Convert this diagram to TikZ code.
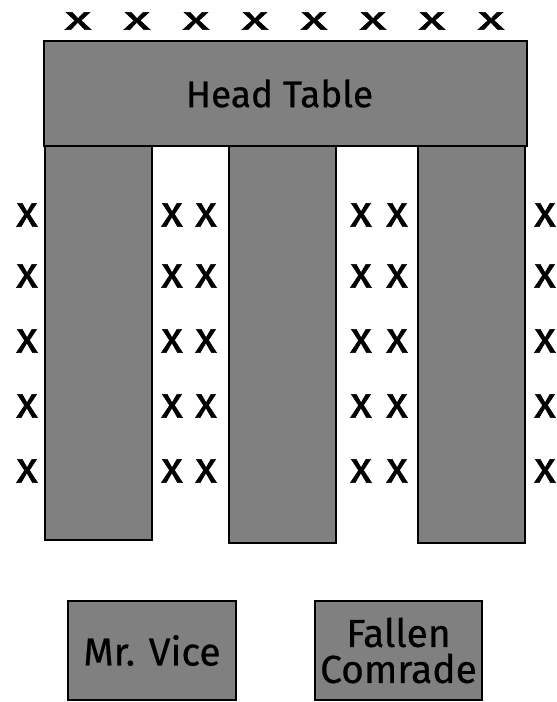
\documentclass[tikz,border=0pt]{standalone}
\usepackage{fontspec}
\setmainfont{Fira Sans}[FakeBold=0.6]
\newfontfamily\seatfont{Fira Sans}[FakeBold=1.4]
\definecolor{tablegray}{RGB}{128,128,128}
\begin{document}
\begin{tikzpicture}[x=1pt,y=-1pt,
  tbl/.style={draw=black,line width=2pt,fill=tablegray,inner sep=0pt,outer sep=0pt,anchor=north west,align=center},
  seat/.style={font=\seatfont\fontsize{44}{44}\selectfont,inner sep=0pt},
  lbl/.style={font=\fontsize{37}{37}\selectfont},
  sublbl/.style={font=\fontsize{39}{36}\selectfont}]
\useasboundingbox (0,0) rectangle (557,702);
% legs
\node[tbl,minimum width=107pt,minimum height=394pt] (leg1) at (45,146) {};
\node[tbl,minimum width=107pt,minimum height=397pt] (leg2) at (229,146) {};
\node[tbl,minimum width=107pt,minimum height=397pt] (leg3) at (418,146) {};
% head table
\node[tbl,lbl,minimum width=483pt,minimum height=105pt] (head) at (44,41) {Head Table\hspace*{12pt}};
% side tables
\node[tbl,sublbl,minimum width=168pt,minimum height=99pt] (vice) at (68,601) {Mr. Vice};
\node[tbl,sublbl,minimum width=167pt,minimum height=99pt] (comrade) at (315,601) {Fallen\\Comrade};
% top seats
\foreach \i in {0,...,7}{
  \node[seat] (top\i) at ({78+59*\i},21) {\scalebox{1.25}[0.75]{x}};
}
% side seats
\foreach \c/\xx in {a/27,b/172,c/206,d/361,e/397,f/545}{
  \foreach \r/\yy in {1/215,2/276,3/341,4/406,5/471}{
    \node[seat] (\c\r) at (\xx,\yy) {x};
  }
}
\end{tikzpicture}
\end{document}
